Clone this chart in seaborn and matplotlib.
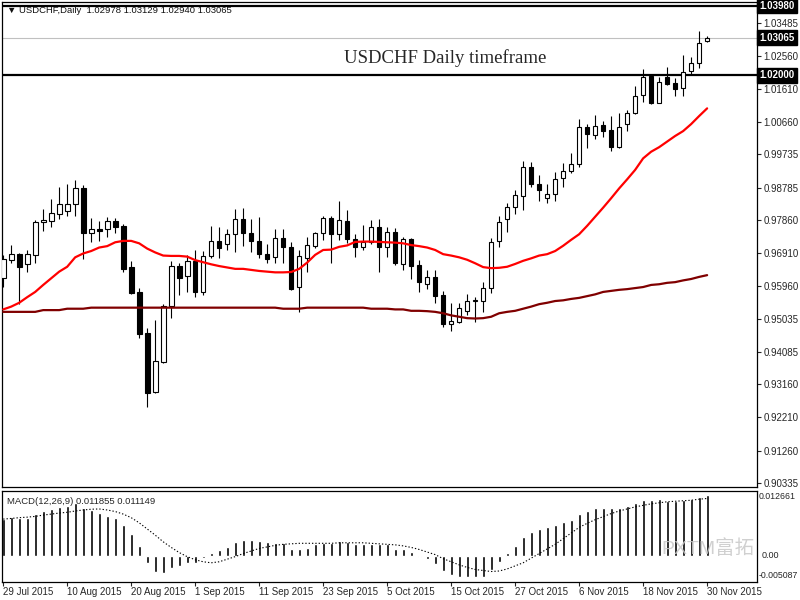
import numpy as np
import pandas as pd
import matplotlib
matplotlib.use("Agg")
import matplotlib.pyplot as plt
import seaborn as sns

# trading days shown on the chart (29 Jul 2015 .. 30 Nov 2015)
dates = pd.bdate_range("2015-07-29", "2015-11-30")

opens = [0.9619, 0.9671, 0.9688, 0.9659, 0.9685, 0.9779, 0.9784, 0.9802, 0.9812, 0.9831,
         0.9876, 0.9748, 0.9759, 0.9759, 0.9783, 0.9769, 0.9650, 0.9579, 0.9462, 0.9295,
         0.9380, 0.9541, 0.9655, 0.9626, 0.9668, 0.9581, 0.9684, 0.9727, 0.9716, 0.9745,
         0.9788, 0.9748, 0.9727, 0.9688, 0.9681, 0.9733, 0.9708, 0.9593, 0.9676, 0.9712,
         0.9748, 0.9791, 0.9745, 0.9783, 0.9731, 0.9709, 0.9724, 0.9765, 0.9709, 0.9750,
         0.9659, 0.9731, 0.9657, 0.9602, 0.9622, 0.9571, 0.9487, 0.9495, 0.9526, 0.9555,
         0.9555, 0.9590, 0.9726, 0.9788, 0.9822, 0.9855, 0.9936, 0.9888, 0.9848, 0.9859,
         0.9905, 0.9927, 0.9945, 1.0051, 1.0029, 1.0057, 1.0042, 0.9995, 1.0059, 1.0093,
         1.0142, 1.0198, 1.0121, 1.0194, 1.0177, 1.0162, 1.0213, 1.0234, 1.02978]
highs = [0.9686, 0.9714, 0.9690, 0.9700, 0.9786, 0.9817, 0.9846, 0.9879, 0.9889, 0.9900,
         0.9886, 0.9791, 0.9783, 0.9795, 0.9792, 0.9774, 0.9669, 0.9590, 0.9476, 0.9500,
         0.9545, 0.9668, 0.9664, 0.9686, 0.9700, 0.9698, 0.9769, 0.9765, 0.9759, 0.9817,
         0.9819, 0.9789, 0.9793, 0.9716, 0.9759, 0.9759, 0.9722, 0.9700, 0.9736, 0.9752,
         0.9797, 0.9797, 0.9840, 0.9814, 0.9746, 0.9771, 0.9786, 0.9788, 0.9765, 0.9762,
         0.9738, 0.9735, 0.9671, 0.9643, 0.9643, 0.9583, 0.9547, 0.9549, 0.9574, 0.9565,
         0.9607, 0.9733, 0.9797, 0.9833, 0.9872, 0.9954, 0.9952, 0.9914, 0.9888, 0.9922,
         0.9948, 0.9976, 1.0074, 1.0059, 1.0086, 1.0069, 1.0083, 1.0091, 1.0100, 1.0169,
         1.0217, 1.0202, 1.0194, 1.0222, 1.0191, 1.0258, 1.0251, 1.0326, 1.03129]
lows = [0.9593, 0.9662, 0.9545, 0.9638, 0.9664, 0.9755, 0.9765, 0.9788, 0.9798, 0.9798,
        0.9673, 0.9724, 0.9726, 0.9738, 0.9748, 0.9638, 0.9575, 0.9449, 0.9252, 0.9292,
        0.9378, 0.9506, 0.9571, 0.9581, 0.9565, 0.9571, 0.9678, 0.9678, 0.9700, 0.9695,
        0.9712, 0.9695, 0.9678, 0.9662, 0.9664, 0.9664, 0.9585, 0.9522, 0.9638, 0.9705,
        0.9729, 0.9664, 0.9729, 0.9719, 0.9681, 0.9700, 0.9717, 0.9638, 0.9681, 0.9657,
        0.9643, 0.9616, 0.9581, 0.9588, 0.9547, 0.9479, 0.9469, 0.9490, 0.9514, 0.9493,
        0.9522, 0.9576, 0.9708, 0.9752, 0.9802, 0.9815, 0.9881, 0.9841, 0.9833, 0.9841,
        0.9881, 0.9919, 0.9938, 0.9992, 1.0017, 1.0024, 0.9984, 0.9992, 1.0040, 1.0089,
        1.0124, 1.0117, 1.0119, 1.0172, 1.0141, 1.0141, 1.0200, 1.0221, 1.02940]
closes = [0.9673, 0.9688, 0.9650, 0.9688, 0.9779, 0.9786, 0.9805, 0.9831, 0.9831, 0.9876,
          0.9748, 0.9759, 0.9755, 0.9783, 0.9766, 0.9646, 0.9578, 0.9459, 0.9292, 0.9383,
          0.9541, 0.9655, 0.9619, 0.9668, 0.9581, 0.9684, 0.9727, 0.9707, 0.9745, 0.9788,
          0.9748, 0.9727, 0.9688, 0.9673, 0.9733, 0.9708, 0.9588, 0.9683, 0.9714, 0.9748,
          0.9791, 0.9745, 0.9786, 0.9731, 0.9709, 0.9724, 0.9765, 0.9709, 0.9750, 0.9662,
          0.9731, 0.9655, 0.9609, 0.9622, 0.9569, 0.9487, 0.9497, 0.9533, 0.9555, 0.9557,
          0.9590, 0.9724, 0.9779, 0.9822, 0.9857, 0.9936, 0.9888, 0.9872, 0.9859, 0.9902,
          0.9927, 0.9945, 1.0051, 1.0031, 1.0054, 1.0041, 0.9995, 1.0051, 1.0091, 1.0140,
          1.0194, 1.0119, 1.0180, 1.0174, 1.0160, 1.0210, 1.0234, 1.0291, 1.03065]

# moving averages (red = fast, maroon = slow)
ma_fast = [0.9530, 0.9538, 0.9549, 0.9565, 0.9580, 0.9600, 0.9619, 0.9638, 0.9652, 0.9679,
           0.9690, 0.9697, 0.9707, 0.9711, 0.9722, 0.9726, 0.9726, 0.9719, 0.9704, 0.9693,
           0.9684, 0.9683, 0.9683, 0.9681, 0.9671, 0.9665, 0.9659, 0.9654, 0.9650, 0.9646,
           0.9646, 0.9643, 0.9640, 0.9638, 0.9636, 0.9636, 0.9637, 0.9646, 0.9664, 0.9686,
           0.9700, 0.9701, 0.9709, 0.9713, 0.9723, 0.9724, 0.9724, 0.9723, 0.9722, 0.9721,
           0.9719, 0.9714, 0.9711, 0.9707, 0.9700, 0.9688, 0.9684, 0.9679, 0.9672, 0.9662,
           0.9651, 0.9648, 0.9649, 0.9652, 0.9660, 0.9669, 0.9676, 0.9684, 0.9688, 0.9697,
           0.9712, 0.9729, 0.9745, 0.9769, 0.9795, 0.9821, 0.9848, 0.9876, 0.9902, 0.9929,
           0.9962, 0.9981, 0.9994, 1.0010, 1.0026, 1.0040, 1.0060, 1.0083, 1.0105]
ma_slow = [0.9523, 0.9523, 0.9523, 0.9523, 0.9523, 0.9528, 0.9528, 0.9528, 0.9532, 0.9532,
           0.9532, 0.9535, 0.9535, 0.9535, 0.9535, 0.9535, 0.9535, 0.9535, 0.9535, 0.9535,
           0.9535, 0.9535, 0.9535, 0.9535, 0.9535, 0.9535, 0.9535, 0.9535, 0.9535, 0.9535,
           0.9535, 0.9535, 0.9535, 0.9535, 0.9535, 0.9532, 0.9532, 0.9532, 0.9535, 0.9535,
           0.9535, 0.9535, 0.9535, 0.9535, 0.9535, 0.9535, 0.9532, 0.9532, 0.9532, 0.9530,
           0.9530, 0.9526, 0.9526, 0.9525, 0.9523, 0.9519, 0.9513, 0.9509, 0.9505, 0.9504,
           0.9505, 0.9509, 0.9519, 0.9523, 0.9526, 0.9532, 0.9538, 0.9545, 0.9549, 0.9554,
           0.9556, 0.9560, 0.9563, 0.9568, 0.9573, 0.9580, 0.9583, 0.9586, 0.9588, 0.9591,
           0.9594, 0.9600, 0.9602, 0.9606, 0.9608, 0.9613, 0.9617, 0.9623, 0.9628]

# MACD(12,26,9): histogram = main line, dotted = signal
macd_main = [0.00708, 0.00753, 0.00727, 0.00727, 0.00811, 0.00870, 0.00909, 0.00954, 0.00967, 0.01032,
             0.00934, 0.00889, 0.00825, 0.00778, 0.00727, 0.00597, 0.00421, 0.00187, -0.00138, -0.00314,
             -0.00333, -0.00236, -0.00197, -0.00138, -0.00138, -0.00053, 0.00057, 0.00109, 0.00174, 0.00259,
             0.00304, 0.00304, 0.00285, 0.00259, 0.00252, 0.00252, 0.00129, 0.00129, 0.00154, 0.00220,
             0.00252, 0.00252, 0.00285, 0.00259, 0.00226, 0.00226, 0.00226, 0.00226, 0.00220, 0.00129,
             0.00129, 0.00076, -0.00020, -0.00066, -0.00170, -0.00294, -0.00378, -0.00423, -0.00423, -0.00423,
             -0.00411, -0.00281, -0.00119, 0.00045, 0.00187, 0.00357, 0.00454, 0.00519, 0.00564, 0.00597,
             0.00649, 0.00694, 0.00811, 0.00870, 0.00934, 0.00934, 0.00934, 0.00934, 0.00973, 0.01020,
             0.01084, 0.01084, 0.01104, 0.01070, 0.01065, 0.01084, 0.01104, 0.01137, 0.011855]
macd_signal = [0.00712, 0.00725, 0.00740, 0.00750, 0.00765, 0.00790, 0.00810, 0.00830, 0.00845, 0.00870,
               0.00890, 0.00905, 0.00910, 0.00890, 0.00860, 0.00810, 0.00740, 0.00640, 0.00520, 0.00400,
               0.00270, 0.00160, 0.00060, -0.00020, -0.00080, -0.00120, -0.00140, -0.00120, -0.00070, -0.00020,
               0.00040, 0.00090, 0.00140, 0.00170, 0.00200, 0.00220, 0.00230, 0.00240, 0.00240, 0.00240,
               0.00240, 0.00240, 0.00250, 0.00250, 0.00250, 0.00250, 0.00240, 0.00230, 0.00220, 0.00210,
               0.00190, 0.00160, 0.00120, 0.00070, 0.00020, -0.00060, -0.00120, -0.00180, -0.00230, -0.00270,
               -0.00290, -0.00310, -0.00300, -0.00260, -0.00200, -0.00140, -0.00050, 0.00040, 0.00130, 0.00220,
               0.00330, 0.00440, 0.00550, 0.00630, 0.00700, 0.00760, 0.00820, 0.00870, 0.00910, 0.00950,
               0.00980, 0.01010, 0.01030, 0.01050, 0.01060, 0.01070, 0.01080, 0.01100, 0.011149]

price_ticks = [1.03485, 1.02560, 1.01610, 1.00660, 0.99735, 0.98785, 0.97860, 0.96910,
               0.95960, 0.95035, 0.94085, 0.93160, 0.92210, 0.91260, 0.90335]
hlines = [1.03980, 1.02000]
bid = 1.03065
macd_top, macd_bottom = 0.012661, -0.005087

sns.set_style("white")
plt.rcParams["font.family"] = ["Liberation Sans", "DejaVu Sans"]
plt.rcParams["axes.linewidth"] = 0.9

idx = np.arange(len(dates))
o, h, l, c = map(np.array, (opens, highs, lows, closes))
up = c >= o

fig = plt.figure(figsize=(8, 6), dpi=100)
ax = fig.add_axes([0.003, 0.18833, 0.943, 0.80833])
axm = fig.add_axes([0.003, 0.0305, 0.943, 0.15167], sharex=ax)

# candles
ax.vlines(idx, l, h, color="black", lw=0.8, zorder=2)
body = np.maximum(np.abs(c - o), 0.00008)
ax.bar(idx[up], body[up], bottom=np.minimum(o, c)[up], width=0.58,
       facecolor="white", edgecolor="black", lw=0.8, zorder=3)
ax.bar(idx[~up], body[~up], bottom=np.minimum(o, c)[~up], width=0.58,
       facecolor="black", edgecolor="black", lw=0.8, zorder=3)

sns.lineplot(x=idx, y=ma_fast, ax=ax, color="#ff0000", lw=1.6, zorder=4)
sns.lineplot(x=idx, y=ma_slow, ax=ax, color="#800000", lw=1.6, zorder=4)

for lv in hlines:
    ax.axhline(lv, color="black", lw=1.6, zorder=1)
ax.axhline(bid, color="#c0c0c0", lw=0.8, zorder=1)

ax.set_xlim(-0.1, 94.21)
ax.set_ylim(0.90221, 1.04092)
ax.yaxis.tick_right()
ax.set_yticks(price_ticks)
ax.set_yticklabels([f"{v:.5f}" for v in price_ticks])
ax.tick_params(axis="y", direction="out", length=3, width=0.8, labelsize=7, pad=2, right=True)
ax.tick_params(axis="x", bottom=False, labelbottom=False)

for lv in hlines + [bid]:
    ax.text(1.004, lv, f"{lv:.5f}", transform=ax.get_yaxis_transform(), fontsize=7,
            color="white", va="center", ha="left", fontweight="bold",
            bbox=dict(boxstyle="square,pad=0.25", facecolor="black", edgecolor="black"))

fig.text(7 / 800, 1 - 10.5 / 600, "\u25bc USDCHF,Daily  1.02978 1.03129 1.02940 1.03065",
         fontsize=6.8, va="center", ha="left", color="#101010")
ax.text(443 / 754.5, 1 - (58 - 2) / 485, "USDCHF Daily timeframe", transform=ax.transAxes,
        fontsize=13.5, family="Liberation Serif", ha="center", va="center")

# MACD panel
axm.bar(idx, macd_main, width=0.38, color="black", zorder=2)
sns.lineplot(x=idx, y=macd_signal, ax=axm, color="black", lw=0.8,
             linestyle=(0, (1.2, 1.8)), zorder=3)
axm.set_ylim(macd_bottom, macd_top)
axm.set_yticks([])
axm.text(1.002, 0.99, f"{macd_top:.6f}", transform=axm.transAxes, fontsize=6.3, va="top", ha="left")
axm.text(1.006, 0.0, "0.00", transform=axm.get_yaxis_transform(), fontsize=6.5, va="center", ha="left")
axm.text(1.002, 0.02, f"{macd_bottom:.6f}", transform=axm.transAxes, fontsize=6.3, va="bottom", ha="left")
axm.text(0.006, 0.93, "MACD(12,26,9) 0.011855 0.011149", transform=axm.transAxes,
         fontsize=6.8, va="top", ha="left")
axm.text(0.935, 0.36, "PXTM富拓", transform=axm.transAxes, fontsize=14, color="#c8c8c8",
         alpha=0.85, ha="center", va="center",
         family=["Liberation Sans", "Noto Sans CJK SC", "DejaVu Sans"])

ticks = idx[::8]
axm.set_xticks(ticks)
axm.set_xticklabels([f"{d.day} {d:%b %Y}" for d in dates[::8]], ha="left")
axm.tick_params(axis="x", direction="out", length=3, width=0.8, labelsize=7, pad=1, bottom=True)

for a in (ax, axm):
    for s in a.spines.values():
        s.set_color("black")
    a.grid(False)
    a.set_xlabel("")
    a.set_ylabel("")

fig.savefig("out.png", dpi=100, facecolor="white")
